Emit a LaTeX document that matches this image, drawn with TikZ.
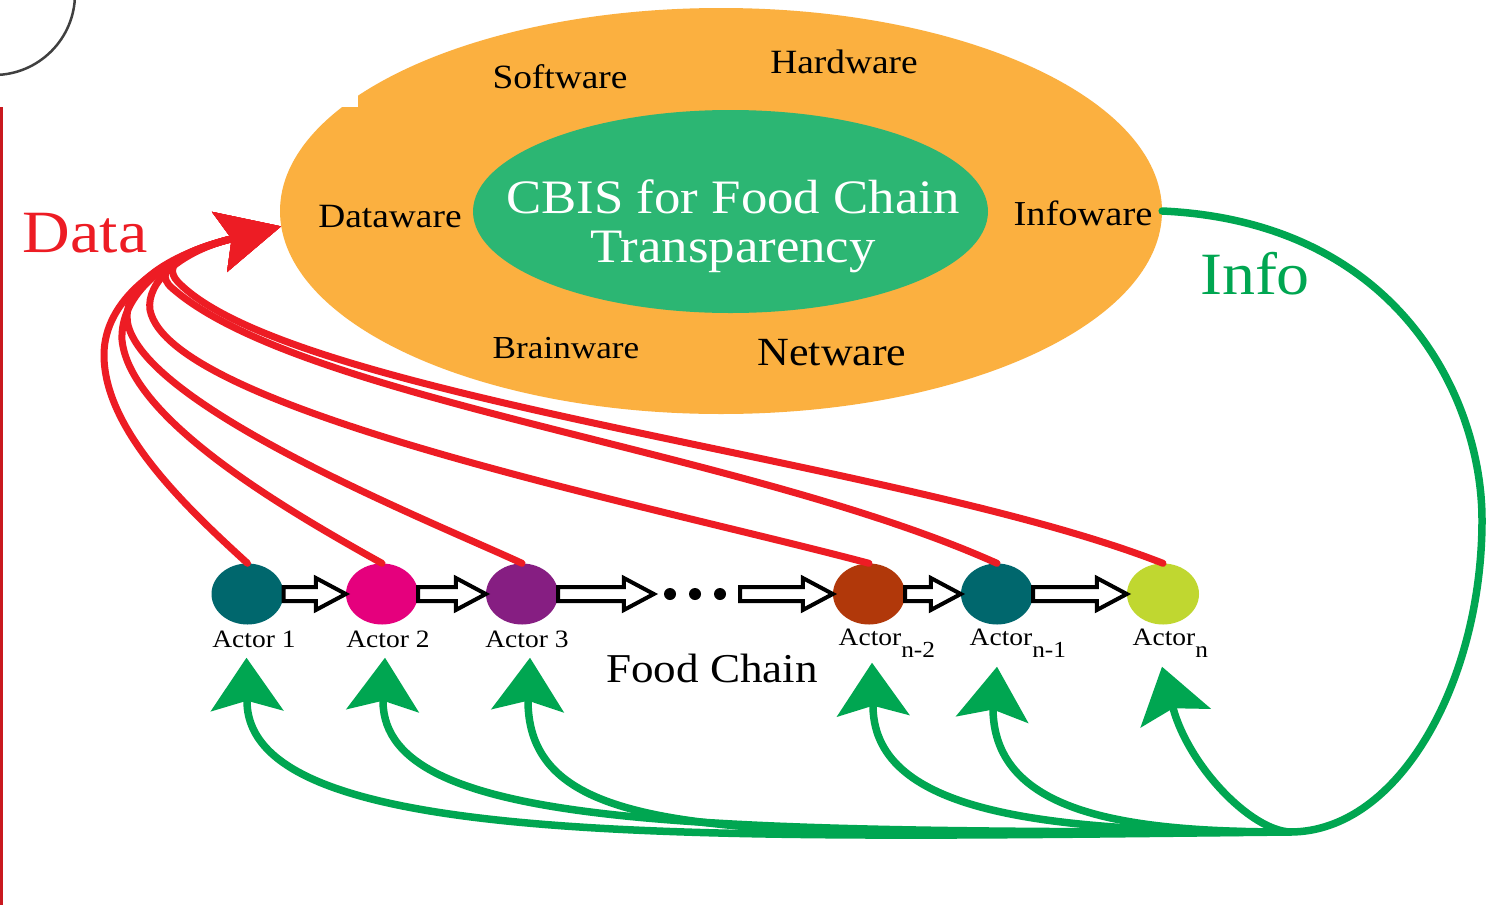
\documentclass[tikz,border=0pt]{standalone}
\usepackage{fontspec}
\setmainfont{Liberation Serif}[FakeStretch=1.1]
\usetikzlibrary{shapes.geometric,arrows.meta,calc}
\definecolor{orangeb}{HTML}{FBB040}
\definecolor{cbisgreen}{HTML}{2CB673}
\definecolor{datared}{HTML}{ED1C24}
\definecolor{infogreen}{HTML}{00A651}
\definecolor{tealact}{HTML}{00676D}
\definecolor{pinkact}{HTML}{E5007D}
\definecolor{purpleact}{HTML}{861E82}
\definecolor{rustact}{HTML}{B1380A}
\definecolor{limeact}{HTML}{C0D730}
\newcommand{\fsz}[1]{\fontsize{#1}{#1}\selectfont}
\newcommand{\actsub}[1]{Actor\rlap{\raisebox{-12pt}{\fsz{23}#1}}}
% hollow block arrow between two chain nodes
\newcommand{\chainarrow}[2]{\draw[chainar] let \p1=(#1.east), \p2=(#2.west) in
  (\x1,\y1+7pt) -- (\x2-30pt,\y1+7pt) -- (\x2-30pt,\y1+16pt) -- (\x2,\y1)
  -- (\x2-30pt,\y1-16pt) -- (\x2-30pt,\y1-7pt) -- (\x1,\y1-7pt) -- cycle;}
\begin{document}
\begin{tikzpicture}[x=1pt,y=-1pt, line join=round, line cap=round, >=Stealth]
	\tikzset{
		ware/.style={anchor=base, inner sep=0, font=\fsz{34}},
		actor/.style={ellipse, minimum width=72pt, minimum height=61pt, inner sep=0},
		actlbl/.style={anchor=base, inner sep=0, font=\fsz{25}},
		chainar/.style={draw=black, line width=4pt, fill=white, line join=miter},
		datafl/.style={datared, line width=7pt, -{Stealth[length=63pt,width=61pt,inset=12pt]}},
		infoline/.style={infogreen, line width=7.5pt},
		infofl/.style={infoline, -{Stealth[length=53pt,width=72pt,inset=10pt]}}
	}
	\useasboundingbox (0,0) rectangle (1506,905);
	\fill[white] (0,0) rectangle (1506,905);
	% the system
	\node[ellipse, fill=orangeb, minimum width=882pt, minimum height=406pt, inner sep=0] (cbis) at (721,211) {};
	\fill[white] (0,0) rectangle (358,107);
	\begin{scope}
		\clip (0,0) rectangle (1506,905);
		\draw[black!75, line width=2.5pt] (-6,-6) circle (81);
	\end{scope}
	\fill[datared!85!black] (0,107) rectangle (3,905);
	\node[ellipse, fill=cbisgreen, minimum width=515pt, minimum height=203pt, inner sep=0] (core) at (730.5,211.5) {};
	\node[font=\fontsize{48}{49}\selectfont, text=white, align=center, inner sep=0] (coretxt) at (733,226) {CBIS for Food Chain\\Transparency};
	\node[ware] (soft) at (560,88) {Software};
	\node[ware] (hard) at (844,73) {Hardware};
	\node[ware] (dataw) at (390,227) {Dataware};
	\node[ware, font=\fsz{35}] (infow) at (1083,225) {Infoware};
	\node[ware, font=\fsz{32}] (brain) at (566,358) {Brainware};
	\node[ware, font=\fsz{40}] (netw) at (832,365) {Netware};
	\node[anchor=base, inner sep=0, font=\fsz{60}, text=datared] (datalbl) at (85,252) {Data};
	\node[anchor=base, inner sep=0, font=\fsz{60}, text=infogreen] (infolbl) at (1255,294) {Info};
	% the food chain
	\node[actor, fill=tealact] (a1) at (247.5,594) {};
	\node[actor, fill=pinkact] (a2) at (382,594) {};
	\node[actor, fill=purpleact] (a3) at (522,594) {};
	\node[minimum width=86pt, minimum height=12pt, inner sep=0] (dots) at (697,594) {};
	\node[actor, fill=rustact] (an2) at (869,594) {};
	\node[actor, fill=tealact] (an1) at (997,594) {};
	\node[actor, fill=limeact] (an) at (1163,594) {};
	\foreach \dx in {-27,-2,23} \fill ($(dots)+(\dx,0)$) circle (6);
	\chainarrow{a1}{a2}\chainarrow{a2}{a3}\chainarrow{a3}{dots}
	\chainarrow{dots}{an2}\chainarrow{an2}{an1}\chainarrow{an1}{an}
	\node[actlbl] (l1) at (254,647) {Actor 1};
	\node[actlbl] (l2) at (388,647) {Actor 2};
	\node[actlbl] (l3) at (527,647) {Actor 3};
	\node[actlbl] (ln2) at (870,645) {\actsub{n-2}};
	\node[actlbl] (ln1) at (1001,645) {\actsub{n-1}};
	\node[actlbl] (ln) at (1164,645) {\actsub{n}};
	\node[anchor=base, inner sep=0, font=\fsz{41}] (fchain) at (712,682) {Food Chain};
	% data flows
	\coordinate (dhub) at (227,240);
	\draw[datafl] (a1.north) .. controls (187,508) and (104,430) .. (104,355) .. controls (104,300) and (160,258) .. (dhub) -- (cbis.182);
	\draw[datafl] (a2.north) .. controls (290,512) and (130,420) .. (122,340) .. controls (120,295) and (165,257) .. (dhub) -- (cbis.182);
	\draw[datafl] (a3.north) .. controls (440,525) and (150,410) .. (128,325) .. controls (120,285) and (170,255) .. (dhub) -- (cbis.182);
	\draw[datafl] (an2.north) .. controls (650,505) and (170,410) .. (150,310) .. controls (146,282) and (180,253) .. (dhub) -- (cbis.182);
	\draw[datafl] (an1.north) .. controls (747,451) and (300,400) .. (172,288) .. controls (149,268) and (188,250) .. (dhub) -- (cbis.182);
	\draw[datafl] (an.north) .. controls (900,460) and (290,398) .. (178,282) .. controls (159,262) and (193,249) .. (dhub) -- (cbis.182);
	% info flows
	\coordinate (ghub) at (1290,832);
	\draw[infoline] (cbis.east) .. controls (1400,222) and (1482,400) .. (1482,520) .. controls (1482,680) and (1400,832) .. (ghub);
	\draw[infofl] (ghub) .. controls (700,838) and (250,850) .. (247,702) -- ($(a1.south)+(-1,33)$);
	\draw[infofl] (ghub) .. controls (700,832) and (385,830) .. (383,702) -- ($(a2.south)+(3,33)$);
	\draw[infofl] (ghub) .. controls (760,834) and (530,850) .. (528,702) -- ($(a3.south)+(8,33)$);
	\draw[infofl] (ghub) .. controls (1050,832) and (875,815) .. (873,707) -- ($(an2.south)+(3,38)$);
	\draw[infofl] (ghub) .. controls (1130,832) and (995,815) .. (993,710) -- ($(an1.south)+(0,42)$);
	\draw[infofl] (ghub) .. controls (1250,830) and (1189,766) .. (1173,708) -- ($(an.south)+(-1,42)$);
\end{tikzpicture}
\end{document}
